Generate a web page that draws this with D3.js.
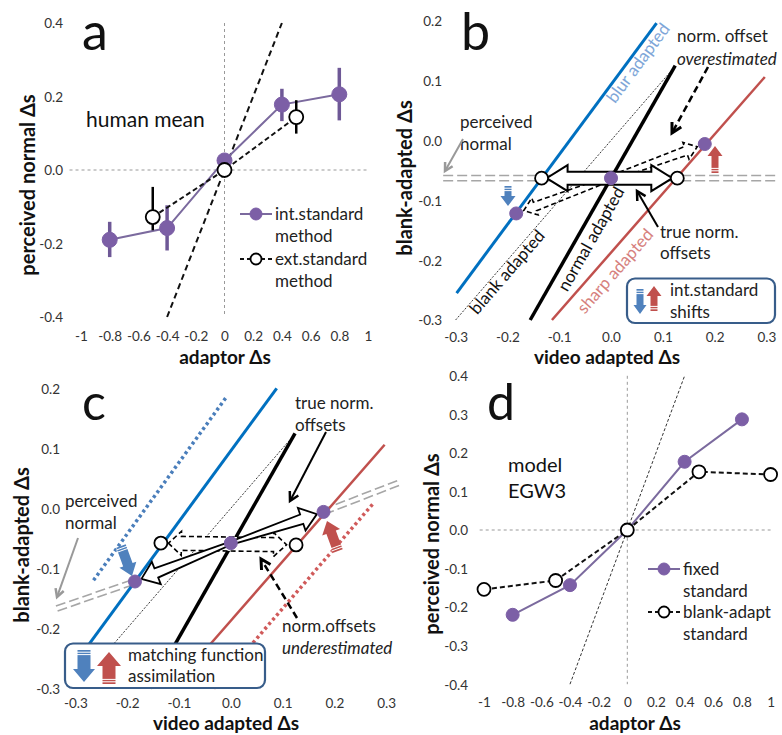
<!DOCTYPE html>
<html><head><meta charset="utf-8">
<script src="https://cdn.jsdelivr.net/npm/d3@7"></script>
<style>
body{margin:0;background:#fff}
svg{display:block}
</style></head><body>
<svg id="fig" width="782" height="735"></svg>
<script>
// ---------- panel a: human mean ----------
const aTicksX = [-1,-0.8,-0.6,-0.4,-0.2,0,0.2,0.4,0.6,0.8,1];
const aTicksY = [-0.4,-0.2,0,0.2,0.4];
const aIntX  = [-0.8,-0.4,0,0.4,0.8];
const aIntY  = [-0.19,-0.158,0.026,0.178,0.206];
const aIntLo = [-0.237,-0.219,0.012,0.133,0.135];
const aIntHi = [-0.141,-0.096,0.040,0.221,0.278];
const aExtX  = [-0.5,0,0.5];
const aExtY  = [-0.128,0,0.144];
const aExtLo = [-0.164,0,0.099];
const aExtHi = [-0.046,0,0.190];
const aUnity = [-0.4,0.4];

// ---------- panel d: model EGW3 ----------
const dTicksX = [-1,-0.8,-0.6,-0.4,-0.2,0,0.2,0.4,0.6,0.8,1];
const dTicksY = [-0.4,-0.3,-0.2,-0.1,0,0.1,0.2,0.3,0.4];
const dFixedX = [-0.8,-0.4,0,0.4,0.8];
const dFixedY = [-0.22,-0.143,0,0.177,0.287];
const dBlankX = [-1,-0.5,0,0.5,1];
const dBlankY = [-0.154,-0.131,0,0.151,0.144];
const dUnity  = [-0.4,0.4];

// ---------- panels b, c: matching diagrams ----------
const bcTicksX = [-0.3,-0.2,-0.1,0,0.1,0.2,0.3];
const bcTicksY = [-0.3,-0.2,-0.1,0,0.1,0.2];
const blurLine   = [[-0.298,-0.255],[0.088,0.196]];
const blankLine  = [[-0.3,-0.3],[0.114,0.114]];
const normalLine = [[-0.156,-0.3],[0.124,0.125]];
const sharpLine  = [[-0.114,-0.3],[0.297,0.106]];
// b: internal-standard shifts
const bPerceived = [[-0.324,-0.063],[0.32,-0.063]];
const bCentre    = [0,-0.063];
const bBlurDot   = [-0.183,-0.122];
const bSharpDot  = [0.181,-0.006];
const bOpen      = [[-0.134,-0.063],[0.128,-0.063]];
// c: matching-function assimilation
const cBlurShift  = [[-0.265,-0.12],[-0.008,0.186]];
const cSharpShift = [[-0.033,-0.3],[0.275,0.008]];
const cPerceived  = [[-0.336,-0.167],[0.323,0.042]];
const cCentre     = [0,-0.058];
const cBlurDot    = [-0.185,-0.122];
const cSharpDot   = [0.179,-0.006];
const cOpen       = [[-0.135,-0.058],[0.126,-0.061]];

const FONT = "Lato, 'Open Sans', sans-serif";
const PURPLE = "#7c5fa6", PURPLE_LINE = "#7b6a9e", BLUE = "#0070c0", RED = "#c0504d";
const ARROW_BLUE = "#4f81bd", ARROW_RED = "#c0504d", GREY = "#a6a6a6";

const svg = d3.select("#fig").attr("font-family", FONT);

// scales
const aX = d3.scaleLinear([-1,1],[81,368]),      aY = d3.scaleLinear([-0.4,0.4],[317,23]);
const dX = d3.scaleLinear([-1,1],[484,770.6]),   dY = d3.scaleLinear([-0.4,0.4],[684.2,375.8]);
const bX = d3.scaleLinear([-0.3,0.3],[455.6,766.4]), bY = d3.scaleLinear([-0.3,0.2],[320,20.7]);
const cX = d3.scaleLinear([-0.3,0.3],[75.4,386.2]),  cY = d3.scaleLinear([-0.3,0.2],[688.3,388.3]);

const fmtInt = v => String(Math.round(v*10)/10);
const fmt1 = v => (Math.abs(v) < 1e-9 ? 0 : v).toFixed(1);

function axes(x, y, xt, yt, fx, fy, xLabelY, yLabelX) {
  svg.append("g").attr("transform", `translate(0,${xLabelY})`)
    .call(d3.axisBottom(x).tickValues(xt).tickSize(0).tickPadding(0).tickFormat(fx))
    .call(s => { s.select(".domain").remove();
      s.attr("font-family", FONT).attr("font-size", 13.5);
      s.selectAll("text").attr("y", 0).attr("dy", "0.36em").attr("fill", "#333"); });
  svg.append("g").attr("transform", `translate(${yLabelX},0)`)
    .call(d3.axisLeft(y).tickValues(yt).tickSize(0).tickPadding(0).tickFormat(fy))
    .call(s => { s.select(".domain").remove();
      s.attr("font-family", FONT).attr("font-size", 13.5);
      s.selectAll("text").attr("x", 0).attr("dy", "0.36em").attr("fill", "#333"); });
}

function txt(x, y, s, o = {}) {
  const t = svg.append("text").attr("x", x).attr("y", y).text(s)
    .attr("font-size", o.size || 17).attr("fill", o.fill || "#222");
  if (o.weight) t.attr("font-weight", o.weight);
  if (o.italic) t.attr("font-style", "italic");
  if (o.anchor) t.attr("text-anchor", o.anchor);
  if (o.rotate !== undefined) t.attr("transform", `rotate(${o.rotate},${x},${y})`);
  if (o.dy) t.attr("dy", o.dy);
  return t;
}

function xTitle(cx, base, s) { txt(cx, base, s, {size: 19, weight: 700, anchor: "middle", fill: "#111"}); }
function yTitle(cx, cy, s) { txt(cx, cy, s, {size: 20, weight: 700, anchor: "middle", fill: "#111", rotate: -90, dy: "0.35em"}); }

function seg(p, x, y, st) {
  const l = svg.append("line").attr("x1", x(p[0][0])).attr("y1", y(p[0][1]))
    .attr("x2", x(p[1][0])).attr("y2", y(p[1][1]));
  for (const k in st) l.attr(k, st[k]);
  return l;
}

// polygon of a block arrow from tail (x1,y1) to tip (x2,y2)
function arrowPts(x1, y1, x2, y2, o) {
  const L = Math.hypot(x2-x1, y2-y1), ux = (x2-x1)/L, uy = (y2-y1)/L, nx = -uy, ny = ux;
  const bx = x2-ux*o.hl, by = y2-uy*o.hl, w0 = o.w0 ?? o.w, w = o.w;
  return [[x1+nx*w0,y1+ny*w0],[bx+nx*w,by+ny*w],[bx+nx*o.hw,by+ny*o.hw],[x2,y2],
          [bx-nx*o.hw,by-ny*o.hw],[bx-nx*w,by-ny*w],[x1-nx*w0,y1-ny*w0]];
}
function dblArrowPts(x1, y1, x2, y2, o) {
  const L = Math.hypot(x2-x1, y2-y1), ux = (x2-x1)/L, uy = (y2-y1)/L, nx = -uy, ny = ux;
  const b1x = x1+ux*o.hl, b1y = y1+uy*o.hl, b2x = x2-ux*o.hl, b2y = y2-uy*o.hl;
  return [[x1,y1],[b1x+nx*o.hw,b1y+ny*o.hw],[b1x+nx*o.w,b1y+ny*o.w],[b2x+nx*o.w,b2y+ny*o.w],
          [b2x+nx*o.hw,b2y+ny*o.hw],[x2,y2],[b2x-nx*o.hw,b2y-ny*o.hw],[b2x-nx*o.w,b2y-ny*o.w],
          [b1x-nx*o.w,b1y-ny*o.w],[b1x-nx*o.hw,b1y-ny*o.hw]];
}
function poly(pts, st) {
  const p = svg.append("polygon").attr("points", pts.map(d => d.join(",")).join(" "));
  for (const k in st) p.attr(k, st[k]);
  return p;
}
// move point b towards a by distance d
function pull(a, b, d) {
  const L = Math.hypot(b[0]-a[0], b[1]-a[1]);
  return [b[0]-(b[0]-a[0])/L*d, b[1]-(b[1]-a[1])/L*d];
}
// line with open V head
function lineArrow(x1, y1, x2, y2, o = {}) {
  const col = o.color || "#000", w = o.width || 2, h = o.head || 10, s = 0.5;
  const a = Math.atan2(y2-y1, x2-x1);
  const l = svg.append("line").attr("x1", x1).attr("y1", y1).attr("x2", x2-Math.cos(a)*1.5).attr("y2", y2-Math.sin(a)*1.5)
    .attr("stroke", col).attr("stroke-width", w);
  if (o.dash) l.attr("stroke-dasharray", o.dash);
  svg.append("path")
    .attr("d", `M${x2-h*Math.cos(a-s)},${y2-h*Math.sin(a-s)}L${x2},${y2}L${x2-h*Math.cos(a+s)},${y2-h*Math.sin(a+s)}`)
    .attr("fill", "none").attr("stroke", col).attr("stroke-width", w+0.5).attr("stroke-linejoin", "miter");
}
// filled colour arrow with striped tail
function fatArrow(x1, y1, x2, y2, col, o) {
  poly(arrowPts(x1, y1, x2, y2, o), {fill: col});
  const L = Math.hypot(x2-x1, y2-y1), ux = (x2-x1)/L, uy = (y2-y1)/L, nx = -uy, ny = ux;
  [2.2, 4.6].forEach(t => {
    const px = x1+ux*t, py = y1+uy*t;
    svg.append("line").attr("x1", px+nx*(o.w+1)).attr("y1", py+ny*(o.w+1))
      .attr("x2", px-nx*(o.w+1)).attr("y2", py-ny*(o.w+1)).attr("stroke", "#fff").attr("stroke-width", 1);
  });
}
// grey double dashed line
function doubleLine(x1, y1, x2, y2) {
  const L = Math.hypot(x2-x1, y2-y1), nx = -(y2-y1)/L, ny = (x2-x1)/L;
  [-2.6, 2.6].forEach(s => svg.append("line")
    .attr("x1", x1+nx*s).attr("y1", y1+ny*s).attr("x2", x2+nx*s).attr("y2", y2+ny*s)
    .attr("stroke", GREY).attr("stroke-width", 1.6).attr("stroke-dasharray", "10 4"));
}
function dot(x, y, filled, r = 6.5) {
  svg.append("circle").attr("cx", x).attr("cy", y).attr("r", r)
    .attr("fill", filled ? PURPLE : "#fff").attr("stroke", filled ? PURPLE : "#000")
    .attr("stroke-width", filled ? 1 : 1.8);
}
const angleOf = (p, x, y) => Math.atan2(y(p[1][1])-y(p[0][1]), x(p[1][0])-x(p[0][0])) * 180 / Math.PI;

// =========================== panel a ===========================
axes(aX, aY, aTicksX, aTicksY, fmtInt, fmt1, 336, 63);
svg.append("line").attr("x1", aX(-1.08)).attr("x2", aX(1)).attr("y1", aY(0)).attr("y2", aY(0))
  .attr("stroke", "#999").attr("stroke-width", 1).attr("stroke-dasharray", "3 3");
svg.append("line").attr("x1", aX(0)).attr("x2", aX(0)).attr("y1", aY(0.4)).attr("y2", aY(-0.4))
  .attr("stroke", "#999").attr("stroke-width", 1).attr("stroke-dasharray", "3 3");
seg([[aUnity[0],aUnity[0]],[aUnity[1],aUnity[1]]], aX, aY,
  {stroke: "#111", "stroke-width": 2, "stroke-dasharray": "6 4"});

// internal-standard method
svg.append("path").datum(aIntX.map((v,i) => [v, aIntY[i]]))
  .attr("d", d3.line().x(d => aX(d[0])).y(d => aY(d[1])))
  .attr("fill", "none").attr("stroke", PURPLE_LINE).attr("stroke-width", 2);
aIntX.forEach((v,i) => svg.append("line").attr("x1", aX(v)).attr("x2", aX(v))
  .attr("y1", aY(aIntLo[i])).attr("y2", aY(aIntHi[i])).attr("stroke", "#6e5896").attr("stroke-width", 3.5));
aIntX.forEach((v,i) => dot(aX(v), aY(aIntY[i]), true, 7.5));
// external-standard method
svg.append("path").datum(aExtX.map((v,i) => [v, aExtY[i]]))
  .attr("d", d3.line().x(d => aX(d[0])).y(d => aY(d[1])))
  .attr("fill", "none").attr("stroke", "#111").attr("stroke-width", 2).attr("stroke-dasharray", "5 3");
aExtX.forEach((v,i) => svg.append("line").attr("x1", aX(v)).attr("x2", aX(v))
  .attr("y1", aY(aExtLo[i])).attr("y2", aY(aExtHi[i])).attr("stroke", "#000").attr("stroke-width", 2.5));
aExtX.forEach((v,i) => dot(aX(v), aY(aExtY[i]), false, 7));

txt(86, 127, "human mean", {size: 21, fill: "#111"});
// legend a
svg.append("line").attr("x1", 240).attr("x2", 272).attr("y1", 214).attr("y2", 214).attr("stroke", PURPLE_LINE).attr("stroke-width", 2);
dot(256, 214, true, 6);
svg.append("line").attr("x1", 240).attr("x2", 273).attr("y1", 259).attr("y2", 259).attr("stroke", "#111").attr("stroke-width", 2).attr("stroke-dasharray", "4 3");
dot(256, 259, false, 5.5);
txt(275, 220, "int.standard"); txt(275, 242, "method");
txt(275, 265, "ext.standard"); txt(275, 287, "method");
txt(82, 50, "a", {size: 52, fill: "#111"});
xTitle(225, 364, "adaptor Δs");
yTitle(28, 185, "perceived normal Δs");

// =========================== panel b ===========================
axes(bX, bY, bcTicksX, bcTicksY, fmt1, fmt1, 337, 442);
doubleLine(bX(bPerceived[0][0]), bY(bPerceived[0][1]), bX(bPerceived[1][0]), bY(bPerceived[1][1]));
seg(blankLine, bX, bY, {stroke: "#222", "stroke-width": 0.9, "stroke-dasharray": "2 1.5"});
seg(blurLine, bX, bY, {stroke: BLUE, "stroke-width": 3});
seg(normalLine, bX, bY, {stroke: "#000", "stroke-width": 3.5});
seg(sharpLine, bX, bY, {stroke: RED, "stroke-width": 2.5});
txt(638, 63, "blur adapted", {size: 17, fill: "#7ea6d8", anchor: "middle", dy: "0.35em", rotate: angleOf(blurLine, bX, bY)});
txt(507, 272, "blank adapted", {size: 17, fill: "#111", anchor: "middle", dy: "0.35em", rotate: angleOf(blankLine, bX, bY)});
txt(591, 239, "normal adapted", {size: 17, fill: "#111", anchor: "middle", dy: "0.35em", rotate: angleOf(normalLine, bX, bY)});
txt(615, 271, "sharp adapted", {size: 17, fill: "#d6807d", anchor: "middle", dy: "0.35em", rotate: angleOf(sharpLine, bX, bY)});
{
  const c = [bX(bCentre[0]), bY(bCentre[1])];
  [bSharpDot, bBlurDot].forEach(p => {
    const t = pull(c, [bX(p[0]), bY(p[1])], 8);
    poly(arrowPts(c[0], c[1], t[0], t[1], {w0: 2.5, w: 4.5, hw: 9, hl: 12}),
      {fill: "none", stroke: "#000", "stroke-width": 1.6, "stroke-dasharray": "5 3"});
  });
  const l = [bX(bOpen[0][0]) + 5, bY(bOpen[0][1])], r = [bX(bOpen[1][0]) - 5, bY(bOpen[1][1])];
  poly(dblArrowPts(l[0], l[1], r[0], r[1], {w: 6.5, hw: 13, hl: 21}), {fill: "#fff", stroke: "#000", "stroke-width": 2});
  bOpen.forEach(p => dot(bX(p[0]), bY(p[1]), false, 6.5));
  dot(c[0], c[1], true, 6.5);
  dot(bX(bBlurDot[0]), bY(bBlurDot[1]), true, 6.5);
  dot(bX(bSharpDot[0]), bY(bSharpDot[1]), true, 6.5);
}
fatArrow(715, 173, 715, 146, ARROW_RED, {w: 3.5, hw: 7.5, hl: 10});
fatArrow(508, 186, 508, 206, ARROW_BLUE, {w: 3.5, hw: 7.5, hl: 10});
txt(460, 128, "perceived"); txt(460, 150, "normal");
lineArrow(463, 139, 445, 171, {color: "#999", width: 2, head: 9});
txt(677, 42, "norm. offset");
txt(677, 65, "overestimated", {italic: true});
lineArrow(708, 67, 672, 133, {width: 2.5, dash: "7 4", head: 11});
txt(660, 238, "true norm."); txt(660, 259, "offsets");
lineArrow(658, 227, 637, 191, {width: 2, head: 10});
// legend b
svg.append("rect").attr("x", 627).attr("y", 278.5).attr("width", 148).attr("height", 44.5).attr("rx", 8)
  .attr("fill", "#fff").attr("stroke", "#385d8a").attr("stroke-width", 2.2);
fatArrow(640, 289, 640, 314, ARROW_BLUE, {w: 3.5, hw: 6.5, hl: 9});
fatArrow(654, 311, 654, 286, ARROW_RED, {w: 3.5, hw: 7.5, hl: 10});
txt(670, 296, "int.standard"); txt(670, 318, "shifts");
txt(461, 50, "b", {size: 52, fill: "#111"});
xTitle(607, 364, "video adapted Δs");
yTitle(405, 178, "blank-adapted Δs");

// =========================== panel c ===========================
axes(cX, cY, bcTicksX, bcTicksY, fmt1, fmt1, 703, 60);
{
  const bd = [cX(cBlurDot[0]), cY(cBlurDot[1])], sd = [cX(cSharpDot[0]), cY(cSharpDot[1])];
  doubleLine(cX(cPerceived[0][0]), cY(cPerceived[0][1]), bd[0], bd[1]);
  doubleLine(sd[0], sd[1], cX(cPerceived[1][0]), cY(cPerceived[1][1]));
}
seg(blankLine, cX, cY, {stroke: "#222", "stroke-width": 0.9, "stroke-dasharray": "2 1.5"});
seg(cBlurShift, cX, cY, {stroke: "#4a7ebb", "stroke-width": 3.5, "stroke-dasharray": "3 3"});
seg(cSharpShift, cX, cY, {stroke: "#d05a5a", "stroke-width": 3.5, "stroke-dasharray": "3 3"});
seg([[blurLine[0][0], blurLine[0][1]], [0.0886, 0.2]], cX, cY, {stroke: BLUE, "stroke-width": 3});
seg(normalLine, cX, cY, {stroke: "#000", "stroke-width": 3.5});
seg(sharpLine, cX, cY, {stroke: RED, "stroke-width": 2.5});
{
  const c = [cX(cCentre[0]), cY(cCentre[1])];
  const l = pull([cX(cOpen[1][0]), cY(cOpen[1][1])], [cX(cOpen[0][0]), cY(cOpen[0][1])], 7.5);
  const r = pull([cX(cOpen[0][0]), cY(cOpen[0][1])], [cX(cOpen[1][0]), cY(cOpen[1][1])], 9.5);
  poly(dblArrowPts(l[0], l[1], r[0], r[1], {w: 7, hw: 12, hl: 13}),
    {fill: "#fff", stroke: "#000", "stroke-width": 1.6, "stroke-dasharray": "5 3"});
  [cSharpDot, cBlurDot].forEach(p => {
    const t = pull(c, [cX(p[0]), cY(p[1])], 7);
    poly(arrowPts(c[0], c[1], t[0], t[1], {w0: 1.5, w: 5, hw: 12, hl: 16}),
      {fill: "#fff", stroke: "#000", "stroke-width": 1.8});
  });
  cOpen.forEach(p => dot(cX(p[0]), cY(p[1]), false, 6.5));
  dot(c[0], c[1], true, 6.5);
  dot(cX(cBlurDot[0]), cY(cBlurDot[1]), true, 6.5);
  dot(cX(cSharpDot[0]), cY(cSharpDot[1]), true, 6.5);
}
fatArrow(121, 546, 132, 576, ARROW_BLUE, {w: 5, hw: 9, hl: 12});
fatArrow(338, 551, 327, 521, ARROW_RED, {w: 5, hw: 9.5, hl: 12});
txt(65, 507, "perceived"); txt(65, 529, "normal");
lineArrow(78, 538, 57, 597, {color: "#999", width: 2, head: 9});
txt(295, 409, "true norm."); txt(295, 431, "offsets");
lineArrow(326, 432, 290, 501, {width: 2, head: 10});
txt(282, 632, "norm.offsets");
txt(282, 654, "underestimated", {italic: true});
lineArrow(297, 618, 261, 559, {width: 2.5, dash: "7 4", head: 11});
// legend c
svg.append("rect").attr("x", 65).attr("y", 643.5).attr("width", 200).attr("height", 44.5).attr("rx", 8)
  .attr("fill", "#fff").attr("stroke", "#385d8a").attr("stroke-width", 2.2);
fatArrow(84, 650, 84, 682, ARROW_BLUE, {w: 6.5, hw: 11, hl: 13});
fatArrow(109, 684, 109, 652, ARROW_RED, {w: 6.5, hw: 12, hl: 14});
txt(128, 661, "matching function"); txt(128, 682, "assimilation");
txt(82, 420, "c", {size: 50, fill: "#111"});
xTitle(226, 730, "video adapted Δs");
yTitle(22, 545, "blank-adapted Δs");

// =========================== panel d ===========================
axes(dX, dY, dTicksX, dTicksY, fmtInt, fmt1, 702, 468);
svg.append("line").attr("x1", dX(-1.03)).attr("x2", dX(1)).attr("y1", dY(0)).attr("y2", dY(0))
  .attr("stroke", "#999").attr("stroke-width", 1).attr("stroke-dasharray", "3 3");
svg.append("line").attr("x1", dX(0)).attr("x2", dX(0)).attr("y1", dY(0.4)).attr("y2", dY(-0.4))
  .attr("stroke", "#999").attr("stroke-width", 1).attr("stroke-dasharray", "3 3");
seg([[dUnity[0],dUnity[0]],[dUnity[1],dUnity[1]]], dX, dY,
  {stroke: "#333", "stroke-width": 1, "stroke-dasharray": "3 2"});
svg.append("path").datum(dFixedX.map((v,i) => [v, dFixedY[i]]))
  .attr("d", d3.line().x(d => dX(d[0])).y(d => dY(d[1])))
  .attr("fill", "none").attr("stroke", PURPLE_LINE).attr("stroke-width", 2);
dFixedX.forEach((v,i) => dot(dX(v), dY(dFixedY[i]), true, 6.5));
svg.append("path").datum(dBlankX.map((v,i) => [v, dBlankY[i]]))
  .attr("d", d3.line().x(d => dX(d[0])).y(d => dY(d[1])))
  .attr("fill", "none").attr("stroke", "#111").attr("stroke-width", 2).attr("stroke-dasharray", "5 3");
dBlankX.forEach((v,i) => dot(dX(v), dY(dBlankY[i]), false, 6.5));
txt(508, 472, "model", {size: 20, fill: "#111"});
txt(508, 498, "EGW3", {size: 20, fill: "#111"});
svg.append("line").attr("x1", 648).attr("x2", 680).attr("y1", 569).attr("y2", 569).attr("stroke", PURPLE_LINE).attr("stroke-width", 2);
dot(664, 569, true, 6);
svg.append("line").attr("x1", 648).attr("x2", 681).attr("y1", 612).attr("y2", 612).attr("stroke", "#111").attr("stroke-width", 2).attr("stroke-dasharray", "4 3");
dot(664, 612, false, 5.5);
txt(683, 575, "fixed"); txt(683, 597, "standard");
txt(683, 618, "blank-adapt"); txt(683, 640, "standard");
txt(487, 420, "d", {size: 50, fill: "#111"});
xTitle(635, 730, "adaptor Δs");
yTitle(432, 544, "perceived normal Δs");
</script>
</body></html>
